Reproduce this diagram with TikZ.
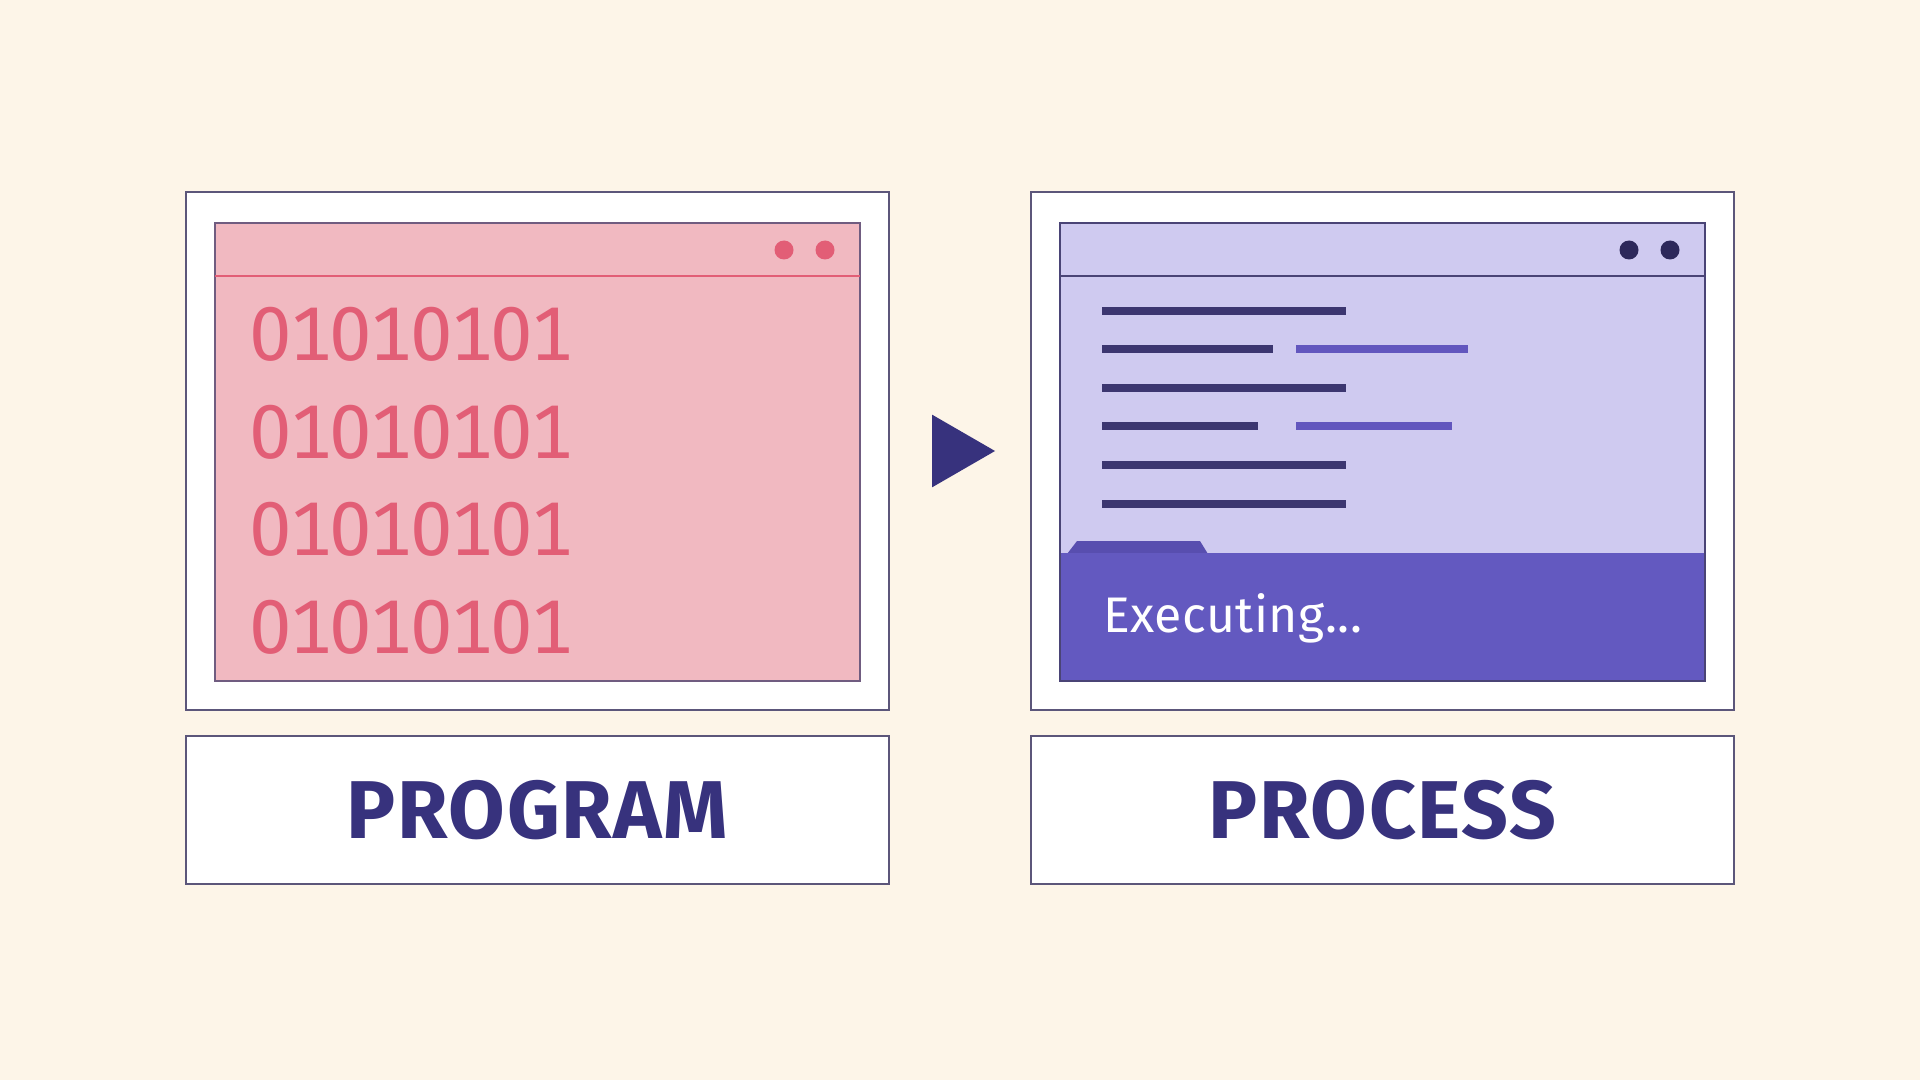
\documentclass[tikz,border=0pt]{standalone}
\usepackage{fontspec}
\setmainfont{Fira Sans}
\usepackage{xcolor}
\usetikzlibrary{positioning, shapes.geometric}
\definecolor{cream}{RGB}{253,245,232}
\definecolor{framec}{RGB}{92,86,122}
\definecolor{pinkfill}{RGB}{241,185,193}
\definecolor{pinkink}{RGB}{226,94,118}
\definecolor{pinkedge}{RGB}{112,92,128}
\definecolor{lavfill}{RGB}{207,202,240}
\definecolor{lavedge}{RGB}{74,68,118}
\definecolor{codedark}{RGB}{60,54,112}
\definecolor{codepurple}{RGB}{98,86,190}
\definecolor{bandc}{RGB}{99,89,192}
\definecolor{tabc}{RGB}{88,78,175}
\definecolor{dotdark}{RGB}{45,40,90}
\definecolor{labelink}{RGB}{55,50,125}

\begin{document}
\begin{tikzpicture}[
    x=0.5pt, y=-0.5pt,
    every node/.style={inner sep=0pt, outer sep=0pt},
    outerframe/.style={draw=framec, line width=1pt, fill=white, anchor=north west,
                       minimum width=351.5pt, minimum height=259pt},
    labelbox/.style={draw=framec, line width=1pt, fill=white, anchor=north west,
                     minimum width=351.5pt, minimum height=74pt,
                     font=\fontsize{41}{41}\selectfont\bfseries\addfontfeature{LetterSpace=2}, text=labelink},
    progwin/.style={draw=pinkedge, line width=1.2pt, fill=pinkfill, anchor=north west,
                    minimum width=322.5pt, minimum height=229pt},
    procwin/.style={draw=lavedge, line width=1.2pt, fill=lavfill, anchor=north west,
                    minimum width=322.5pt, minimum height=229pt},
    windot/.style={circle, minimum size=9.5pt},
    bintext/.style={anchor=base west, text=pinkink,
                    font=\fontsize{38}{38}\selectfont\addfontfeature{Numbers=Monospaced, LetterSpace=-3}},
    codeline/.style={line width=4pt, codedark},
    callline/.style={line width=4pt, codepurple},
  ]
  \useasboundingbox[fill=cream] (0,0) rectangle (1920,1080);

  % program window
  \node[outerframe] (progframe) at (186,192) {};
  \node[progwin] (progwin) at (215,223) {};
  \draw[pinkink, line width=1pt] ([yshift=-26.5pt]progwin.north west) -- ([yshift=-26.5pt]progwin.north east);
  \node[windot, fill=pinkink] (pdot1) at (784,250) {};
  \node[windot, fill=pinkink] (pdot2) at (825,250) {};
  \foreach \y/\n in {361/1, 458/2, 555/3, 653/4}
    \node[bintext] (bin\n) at (249,\y) {01010101};

  % play arrow
  \node[isosceles triangle, isosceles triangle apex angle=60, fill=labelink,
        minimum height=31.5pt, anchor=west] (play) at (932,451) {};

  % process window
  \node[outerframe] (procframe) at (1031,192) {};
  \node[procwin] (procwin) at (1060,223) {};
  \draw[lavedge, line width=1pt] ([yshift=-26.5pt]procwin.north west) -- ([yshift=-26.5pt]procwin.north east);
  \node[windot, fill=dotdark] (qdot1) at (1629,250) {};
  \node[windot, fill=dotdark] (qdot2) at (1670,250) {};
  \foreach \y in {311, 388, 465, 504}
    \draw[codeline] (1102,\y) -- (1346,\y);
  \draw[codeline] (1102,349) -- (1273,349);
  \draw[callline] (1296,349) -- (1468,349);
  \draw[codeline] (1102,426) -- (1258,426);
  \draw[callline] (1296,426) -- (1452,426);
  \fill[tabc] (1067,554) -- (1077,541) -- (1200,541) -- (1208,554) -- cycle;
  \node[fill=bandc, anchor=south west,
        minimum width=322.5pt, minimum height=64pt] (band) at (procwin.south west) {};
  \draw[lavedge, line width=1.2pt] (procwin.north west) rectangle (procwin.south east);
  \node[anchor=base west, text=white,
        font=\fontsize{25}{25}\selectfont\addfontfeature{LetterSpace=1}] (status) at (1103,632) {Executing...};

  % labels
  \node[labelbox] (proglabel) at (186,736) {PROGRAM};
  \node[labelbox] (proclabel) at (1031,736) {PROCESS};
\end{tikzpicture}
\end{document}
